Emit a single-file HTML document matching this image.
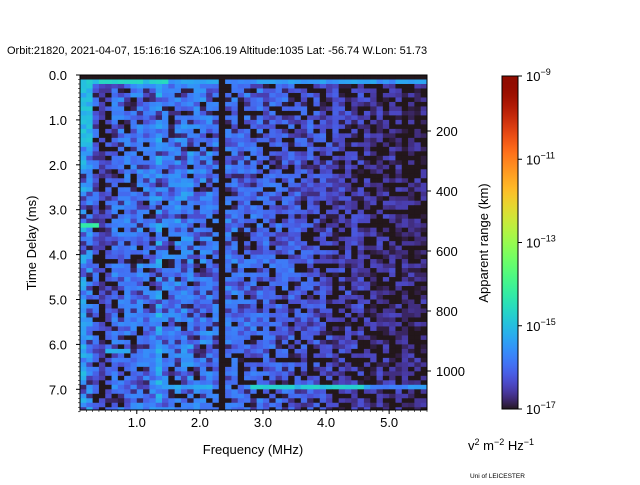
<!DOCTYPE html>
<html><head><meta charset="utf-8"><style>
body{margin:0;background:#fff}
svg text{font-family:"Liberation Sans",sans-serif;fill:#000}
</style></head><body>
<svg id="c" width="640" height="480" xmlns="http://www.w3.org/2000/svg">
<text x="7" y="54" font-size="11">Orbit:21820, 2021-04-07, 15:16:16 SZA:106.19 Altitude:1035 Lat: -56.74 W.Lon: 51.73</text>
<g id="cells"></g>
<g id="axes"></g>
</svg>
<script>
// frequency bins (MHz, start of bin) 0.1..5.5 step 0.1
const freqBins=[0.1,0.2,0.3,0.4,0.5,0.6,0.7,0.8,0.9,1.0,1.1,1.2,1.3,1.4,1.5,1.6,1.7,1.8,1.9,2.0,2.1,2.2,2.3,2.4,2.5,2.6,2.7,2.8,2.9,3.0,3.1,3.2,3.3,3.4,3.5,3.6,3.7,3.8,3.9,4.0,4.1,4.2,4.3,4.4,4.5,4.6,4.7,4.8,4.9,5.0,5.1,5.2,5.3,5.4,5.5];
// mean log10 power per frequency bin
const colLevel=[-15.6,-15.8,-16.3,-16.8,-16.5,-16.1,-16.1,-16.1,-16.1,-16.0,-16.1,-16.0,-15.6,-16.0,-16.0,-15.9,-15.9,-15.9,-16.0,-16.0,-16.0,-16.1,-17.0,-16.1,-16.1,-16.2,-16.2,-16.2,-16.2,-16.3,-16.3,-16.3,-16.3,-16.3,-16.4,-16.4,-16.4,-16.5,-16.5,-16.6,-16.6,-16.7,-16.7,-16.7,-16.7,-16.8,-16.9,-16.9,-16.9,-16.9,-16.9,-17.0,-17.0,-17.0,-17.0];
// texture deviations (log10)
const texture=[0.3,-0.9,0.1,0.4,-1.2,0.2,-0.2,0.5,-0.7,0.0,0.3,-1.1,0.6,-0.4,0.2,-0.1,0.4,-0.9,0.1,0.5,-0.3,0.3,-1.0,0.2,-0.6,0.4,0.0,-1.2,0.5,-0.2,0.1,0.35,-0.8,0.15,0.45,-0.5,0.25,-1.0,0.05,0.4,-0.3,0.2,-0.7,0.5,0.1,-0.2,0.3];
// delay rows (ms) 0..7.4 step 0.1
const delays=[];for(let i=0;i<75;i++)delays.push(+(i*0.1).toFixed(1));
// features: [delayMin, delayMax, freqMin, freqMax, log10 level]
const bands=[[0.1,0.2,0.1,1.5,-14.7],[0.1,0.2,1.5,5.6,-15.4],[0.2,1.6,0.1,0.3,-15.0],[3.3,3.4,0.1,0.35,-14.3],[6.1,6.2,0.5,0.9,-15.3],[6.9,7.0,2.8,4.6,-14.8],[6.9,7.0,4.6,5.6,-15.5],[6.9,7.0,1.4,2.2,-15.3]];
const xTicks=[1.0,2.0,3.0,4.0,5.0],yTicks=[0,1,2,3,4,5,6,7],kmTicks=[200,400,600,800,1000],cbTicks=[-9,-11,-13,-15,-17];

const X0=80,X1=427,Y0=75,Y1=410;
const fx=f=>X0+(f-0.1)*(X1-X0)/5.5;
const fy=t=>Y0+t*44.9;
const fkm=k=>71+k*0.3;
function turbo(t){t=Math.max(0,Math.min(1,t));
 const r=0.13572138+t*(4.61539260+t*(-42.66032258+t*(132.13108234+t*(-152.94239396+t*59.28637943))));
 const g=0.09140261+t*(2.19418839+t*(4.84296658+t*(-14.18503333+t*(4.27729857+t*2.82956604))));
 const b=0.10667330+t*(12.64194608+t*(-60.58204836+t*(110.36276771+t*(-89.90310912+t*27.34824973))));
 const c=v=>Math.round(255*Math.max(0,Math.min(1,v)));return `rgb(${c(r)},${c(g)},${c(b)})`;}
const col=v=>turbo((v+17)/8);
const NS="http://www.w3.org/2000/svg";
const cells=document.getElementById('cells'),axes=document.getElementById('axes');
function mk(p,tag,a){const e=document.createElementNS(NS,tag);for(const k in a)e.setAttribute(k,a[k]);p.appendChild(e);return e;}
delays.forEach((d,r)=>{freqBins.forEach((f,c)=>{
 let v=colLevel[c]+texture[(r*13+c*29+(r*c)%11)%texture.length];
 bands.forEach(b=>{if(d>=b[0]-0.001&&d<b[1]-0.001&&f>=b[2]-0.001&&f<b[3])v=b[4]+0.3*texture[(c*5+r)%texture.length];});
 if(Math.abs(f-2.3)<0.01)v=-17;
 if(d===0)v=-17.2;
 const x=fx(f),w=fx(f+0.1)-x,y=fy(d),h=Math.min(fy(d+0.1),Y1)-y;
 const e=mk(cells,'rect',{x:x.toFixed(2),y:y.toFixed(2),width:(w+0.4).toFixed(2),height:(h+0.4).toFixed(2),fill:col(Math.max(-17,v))});
 
 
});});
mk(axes,'rect',{x:X0,y:Y0,width:X1-X0,height:Y1-Y0,fill:'none',stroke:'#000','stroke-width':1});
xTicks.forEach(t=>{const x=fx(t);mk(axes,'line',{x1:x,x2:x,y1:Y1,y2:Y1+4,stroke:'#000'});
 const e=mk(axes,'text',{x:x,y:Y1+17,'font-size':13,'text-anchor':'middle'});e.textContent=t.toFixed(1);
 });
for(let f=0.1;f<5.6;f+=0.1){const x=fx(f);mk(axes,'line',{x1:x,x2:x,y1:Y1,y2:Y1+2,stroke:'#000','stroke-width':0.6});}
yTicks.forEach(t=>{const y=fy(t);mk(axes,'line',{x1:X0-4,x2:X0,y1:y,y2:y,stroke:'#000'});
 const e=mk(axes,'text',{x:X0-13,y:y+5,'font-size':13,'text-anchor':'end'});e.textContent=t.toFixed(1);
 });
for(let t=0;t<7.5;t+=0.1){const y=fy(t);mk(axes,'line',{x1:X0-2,x2:X0,y1:y,y2:y,stroke:'#000','stroke-width':0.6});}
kmTicks.forEach(k=>{const y=fkm(k);mk(axes,'line',{x1:X1,x2:X1+4,y1:y,y2:y,stroke:'#000'});
 const e=mk(axes,'text',{x:X1+9,y:y+5,'font-size':13});e.textContent=k;
 });
let t;
t=mk(axes,'text',{x:253,y:454,'font-size':13,'text-anchor':'middle'});t.textContent='Frequency (MHz)';

t=mk(axes,'text',{x:36,y:243,'font-size':13,'text-anchor':'middle',transform:'rotate(-90 36 243)'});t.textContent='Time Delay (ms)';

t=mk(axes,'text',{x:488,y:243,'font-size':13,'text-anchor':'middle',transform:'rotate(-90 488 243)'});t.textContent='Apparent range (km)';

const CX=502,CW=16,CY0=76,CY1=409;
const g=mk(axes,'g',{});
for(let i=0;i<CY1-CY0;i++){const v=-9-8*(i/(CY1-CY0));mk(g,'rect',{x:CX,y:CY0+i,width:CW,height:1.2,fill:col(v)});}
mk(g,'rect',{x:CX,y:CY0,width:CW,height:CY1-CY0,fill:'none',stroke:'#000'});
cbTicks.forEach(p=>{const y=CY0+(-9-p)/8*(CY1-CY0);mk(g,'line',{x1:CX+CW,x2:CX+CW+4,y1:y,y2:y,stroke:'#000'});
 const e=mk(g,'text',{x:CX+CW+8,y:y+5,'font-size':13});e.innerHTML='10<tspan dy="-6" font-size="9">−'+(-p)+'</tspan>';
 });
t=mk(axes,'text',{x:468,y:450,'font-size':13});t.innerHTML='v<tspan dy="-5" font-size="9">2</tspan><tspan dy="5"> m</tspan><tspan dy="-5" font-size="9">−2</tspan><tspan dy="5"> Hz</tspan><tspan dy="-5" font-size="9">−1</tspan>';

t=mk(axes,'text',{x:470,y:478,'font-size':6.5});t.textContent='Uni of LEICESTER';

</script>
</body></html>
